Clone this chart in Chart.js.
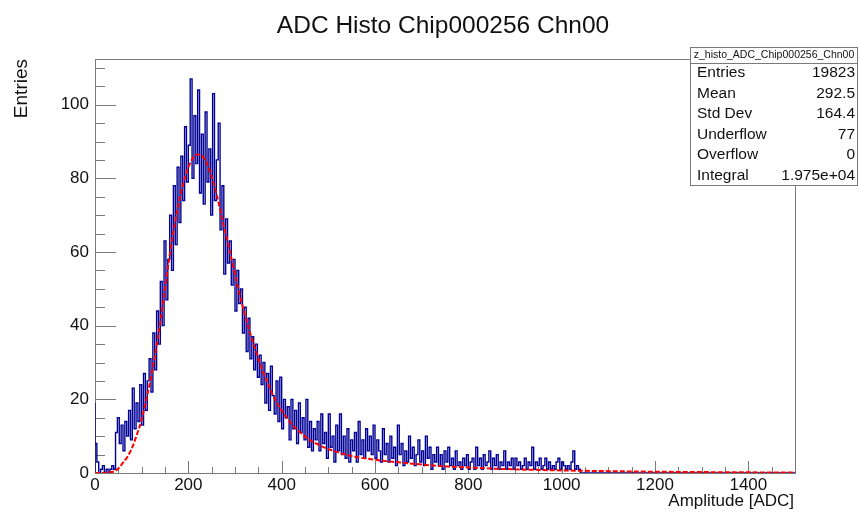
<!DOCTYPE html>
<html>
<head>
<meta charset="utf-8">
<title>ADC Histo Chip000256 Chn00</title>
<script src="https://cdn.jsdelivr.net/npm/chart.js@4.4.1/dist/chart.umd.min.js"></script>
<style>
  html, body { margin: 0; padding: 0; background: #fff; }
  canvas { display: block; }
</style>
</head>
<body>
<canvas id="Adc-Histo" width="860" height="513"></canvas>
<script>
// histogram: entries per ADC count in 4-ADC steps
const binWidth = 4;
const counts = [
  19, 8, 3, 0, 1, 2, 0, 1, 0, 1, 2, 1,                       // 0 - 44
  11, 15, 8, 13, 6, 14, 10, 17, 9, 23, 12, 19, 14, 24, 13, 27, 17, 25,   // 48 - 116
  31, 22, 38, 28, 44, 35, 52, 40, 63, 47, 58, 70, 55, 78, 62, 83, 68, 86, 74, 94,  // 120 - 196
  79, 89, 107, 80, 97, 84, 104, 76, 92, 73, 98, 79, 88, 70, 103, 74, 85, 95, 66, 78, // 200 - 276
  54, 69, 57, 63, 51, 58, 44, 55, 46, 50, 38, 45, 33, 42, 31, 37, 28, 35, 26, 32,   // 280 - 356
  24, 30, 19, 27, 17, 29, 21, 16, 25, 14, 26, 12, 20, 15, 18, 9, 20, 12, 17, 8,     // 360 - 436
  19, 11, 15, 9, 20, 7, 14, 6, 12, 9, 14, 6, 16, 8, 11, 4, 16, 7, 10, 3,            // 440 - 516
  13, 6, 16, 5, 10, 4, 12, 3, 9, 6, 11, 3, 14, 5, 9, 4, 12, 6, 10, 5,               // 520 - 596
  13, 4, 9, 6, 3, 12, 5, 8, 3, 10, 4, 7, 2, 13, 5, 8, 2, 6, 3, 10,                  // 600 - 676
  4, 7, 2, 5, 9, 3, 6, 2, 10, 4, 7, 1, 5, 3, 7, 2, 5, 1, 6, 3,                      // 680 - 756
  7, 2, 4, 1, 6, 2, 3, 1, 4, 2, 5, 1, 3, 4, 1, 7, 2, 4, 1, 5,                       // 760 - 836
  2, 3, 6, 1, 4, 2, 5, 1, 3, 2, 6, 1, 3, 2, 4, 1, 4, 2, 3, 1,                       // 840 - 916
  2, 4, 1, 3, 2, 7, 1, 3, 2, 4, 1, 2, 4, 1, 3, 1, 2, 1, 3, 4,                       // 920 - 996
  1, 3, 2, 1, 2, 1, 3, 6, 1, 2, 1, 0                                                // 1000 - 1044
];

// fitted curve (red dashed)
const fitX = [0, 20, 30, 40, 50, 60, 70, 80, 90, 100, 110, 120, 130, 140, 150, 160, 170, 180, 190, 200,
  210, 220, 230, 240, 250, 260, 270, 280, 290, 300, 310, 320, 330, 340, 350, 360, 370, 380, 390, 400,
  420, 440, 460, 480, 500, 550, 600, 650, 700, 750, 800, 850, 900, 1000, 1100, 1200, 1300, 1400, 1500];
const fitY = [0, 0.02, 0.1, 0.4, 1.2, 2.8, 4.5, 7, 10.5, 14.5, 20, 26, 33, 41, 50, 59, 67, 73.5, 79, 83,
  85.5, 86.5, 86, 84, 80.5, 76, 70.5, 65, 59.5, 54, 48.5, 43.5, 39, 35, 31, 27.5, 24.5, 21.5, 19, 17,
  13.5, 11, 9, 7.6, 6.5, 4.6, 3.6, 2.9, 2.3, 1.8, 1.5, 1.2, 1.0, 0.7, 0.5, 0.35, 0.25, 0.18, 0.13];

const xTicks = [0, 200, 400, 600, 800, 1000, 1200, 1400];
const yTicks = [0, 20, 40, 60, 80, 100];

const statsTitle = 'z_histo_ADC_Chip000256_Chn00';
const statsNames = ['Entries', 'Mean', 'Std Dev', 'Underflow', 'Overflow', 'Integral'];
const statsValues = ['19823', '292.5', '164.4', '77', '0', '1.975e+04'];

const font = '"Liberation Sans", Arial, Helvetica, sans-serif';

// left edge of the histogram starts from zero, then one step per bin
const histPoints = [{x: 0, y: 0}].concat(counts.map((c, i) => ({x: i * binWidth, y: c})));
histPoints.push({x: 1500, y: 0});
const fitPoints = fitX.map((v, i) => ({x: v, y: fitY[i]}));

// ROOT style frame, inward ticks, titles and the stats box
const rootLook = {
  id: 'rootLook',
  beforeDatasetsDraw(chart) {
    const {ctx, chartArea: a, scales: {x, y}} = chart;
    ctx.save();
    ctx.strokeStyle = '#7a7a7a';
    ctx.lineWidth = 1;
    ctx.strokeRect(a.left + 0.5, a.top + 0.5, a.right - a.left, a.bottom - a.top);
    ctx.beginPath();
    for (let v = 0; v <= 1500; v += 50) {
      const px = Math.round(x.getPixelForValue(v)) + 0.5;
      const len = v % 200 === 0 ? 12 : 6;
      ctx.moveTo(px, a.bottom);
      ctx.lineTo(px, a.bottom - len);
    }
    for (let v = 0; v <= 110; v += 5) {
      const py = Math.round(y.getPixelForValue(v)) + 0.5;
      const len = v % 20 === 0 ? 21 : 10;
      ctx.moveTo(a.left, py);
      ctx.lineTo(a.left + len, py);
    }
    ctx.stroke();
    ctx.restore();
  },
  afterDraw(chart) {
    const {ctx, chartArea: a} = chart;
    ctx.save();
    ctx.fillStyle = '#111';
    // title
    ctx.font = '24.5px ' + font;
    ctx.textAlign = 'center';
    ctx.textBaseline = 'middle';
    ctx.fillText('ADC Histo Chip000256 Chn00', 443, 26);
    // x title
    ctx.font = '17px ' + font;
    ctx.textAlign = 'right';
    ctx.textBaseline = 'alphabetic';
    ctx.fillText('Amplitude [ADC]', a.right - 1, 506);
    // y title
    ctx.save();
    ctx.translate(22, a.top);
    ctx.rotate(-Math.PI / 2);
    ctx.font = '19px ' + font;
    ctx.textAlign = 'right';
    ctx.textBaseline = 'middle';
    ctx.fillText('Entries', 0, 0);
    ctx.restore();

    // stats box
    const bx = 690.5, by = 47.5, bw = 167, bh = 138;
    ctx.fillStyle = '#fff';
    ctx.fillRect(bx, by, bw, bh);
    ctx.strokeStyle = '#7a7a7a';
    ctx.strokeRect(bx, by, bw, bh);
    ctx.beginPath();
    ctx.moveTo(bx, 63.5);
    ctx.lineTo(bx + bw, 63.5);
    ctx.stroke();
    ctx.fillStyle = '#111';
    ctx.font = '10.5px ' + font;
    ctx.textAlign = 'center';
    ctx.textBaseline = 'middle';
    ctx.fillText(statsTitle, bx + bw / 2, 55);
    ctx.font = '15.5px ' + font;
    statsNames.forEach((name, i) => {
      const ty = 73 + i * 20.5;
      ctx.textAlign = 'left';
      ctx.fillText(name, 697, ty);
      ctx.textAlign = 'right';
      ctx.fillText(statsValues[i], 855, ty);
    });
    ctx.restore();
  }
};

const adcHisto = document.getElementById('Adc-Histo').getContext('2d');
const adcHistoChart = new Chart(adcHisto, {
  type: 'line',
  data: {
    datasets: [{
      label: 'fit',
      data: fitPoints,
      borderColor: 'rgb(255, 0, 0)',
      borderWidth: 2,
      borderDash: [5, 2],
      pointRadius: 0,
      fill: false,
      cubicInterpolationMode: 'monotone'
    }, {
      label: 'histo',
      data: histPoints,
      borderColor: '#000094',
      borderWidth: 1.4,
      stepped: 'after',
      pointRadius: 0,
      fill: false
    }]
  },
  options: {
    responsive: false,
    animation: false,
    devicePixelRatio: 1,
    layout: {
      padding: {left: 0, right: 65, top: 59, bottom: 0}
    },
    scales: {
      x: {
        type: 'linear',
        min: 0,
        max: 1500,
        afterBuildTicks: (axis) => { axis.ticks = xTicks.map(v => ({value: v})); },
        afterFit: (axis) => { axis.height = 40; },
        grid: {display: false, drawTicks: false},
        border: {display: false},
        ticks: {
          autoSkip: false,
          maxRotation: 0,
          padding: 2,
          color: '#111',
          font: {family: font, size: 17},
          callback: (v) => String(v)
        }
      },
      y: {
        min: 0,
        max: 112.4,
        afterBuildTicks: (axis) => { axis.ticks = yTicks.map(v => ({value: v})); },
        afterFit: (axis) => { axis.width = 95; },
        grid: {display: false, drawTicks: false},
        border: {display: false},
        ticks: {
          padding: 6,
          color: '#111',
          font: {family: font, size: 17},
          callback: (v) => String(v)
        }
      }
    },
    plugins: {
      legend: {display: false},
      tooltip: {enabled: false}
    }
  },
  plugins: [rootLook]
});
</script>
</body>
</html>
